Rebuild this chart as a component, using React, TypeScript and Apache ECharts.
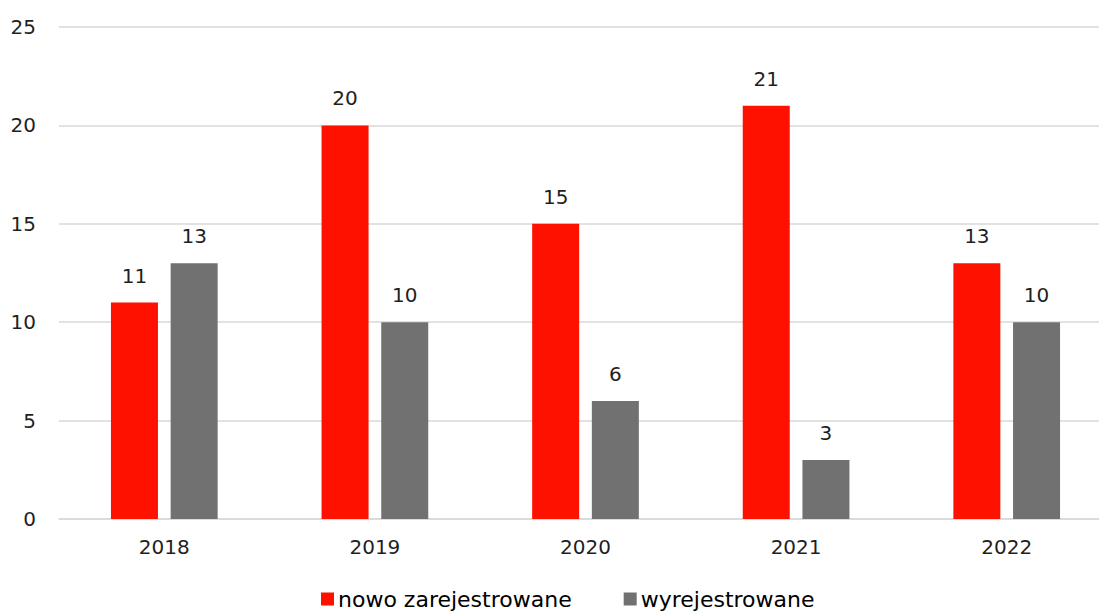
import React, { useEffect, useRef } from "react";
import * as echarts from "echarts";

const categories = ["2018", "2019", "2020", "2021", "2022"];
const nowoZarejestrowane = [11, 20, 15, 21, 13];
const wyrejestrowane = [13, 10, 6, 3, 10];
const seriesNames = ["nowo zarejestrowane", "wyrejestrowane"];

const FONT = "'DejaVu Sans', sans-serif";

export default function App() {
  const ref = useRef<HTMLDivElement>(null);
  useEffect(() => {
    const chart = echarts.init(ref.current!, null, { renderer: "svg" });
    const label = {
      show: true,
      position: "top" as const,
      distance: 17,
      color: "#1f1f1f",
      fontSize: 20,
      fontFamily: FONT,
    };
    chart.setOption({
      animation: false,
      backgroundColor: "#ffffff",
      grid: {
        left: 59,
        width: 1053,
        top: 27,
        bottom: 94,
        containLabel: false,
        outerBoundsMode: "none",
      },
      legend: {
        bottom: -2,
        left: 316,
        itemWidth: 13,
        itemHeight: 13,
        itemGap: 52,
        icon: "rect",
        textStyle: { fontSize: 22, color: "#000000", fontFamily: FONT, padding: [0, 0, 0, -1] },
        data: seriesNames,
      },
      xAxis: {
        type: "category",
        data: categories,
        axisLine: { show: true, lineStyle: { color: "#d9d9d9", width: 1.5 } },
        axisTick: { show: false },
        axisLabel: { color: "#1f1f1f", fontSize: 20, fontFamily: FONT, margin: 18 },
      },
      yAxis: {
        type: "value",
        min: 0,
        max: 25,
        interval: 5,
        axisLine: { show: false },
        axisTick: { show: false },
        splitLine: { lineStyle: { color: "#d9d9d9", width: 1.5 } },
        axisLabel: { color: "#1f1f1f", fontSize: 20, fontFamily: FONT, margin: 23 },
      },
      series: [
        {
          name: seriesNames[0],
          type: "bar",
          data: nowoZarejestrowane,
          barWidth: 47,
          barGap: "27%",
          itemStyle: { color: "#ff1100" },
          label,
        },
        {
          name: seriesNames[1],
          type: "bar",
          data: wyrejestrowane,
          barWidth: 47,
          itemStyle: { color: "#717171" },
          label,
        },
      ],
    });
    return () => chart.dispose();
  }, []);
  return (
    <div
      ref={ref}
      style={{ position: "fixed", left: 0, top: 0, width: 1099, height: 613 }}
    />
  );
}
